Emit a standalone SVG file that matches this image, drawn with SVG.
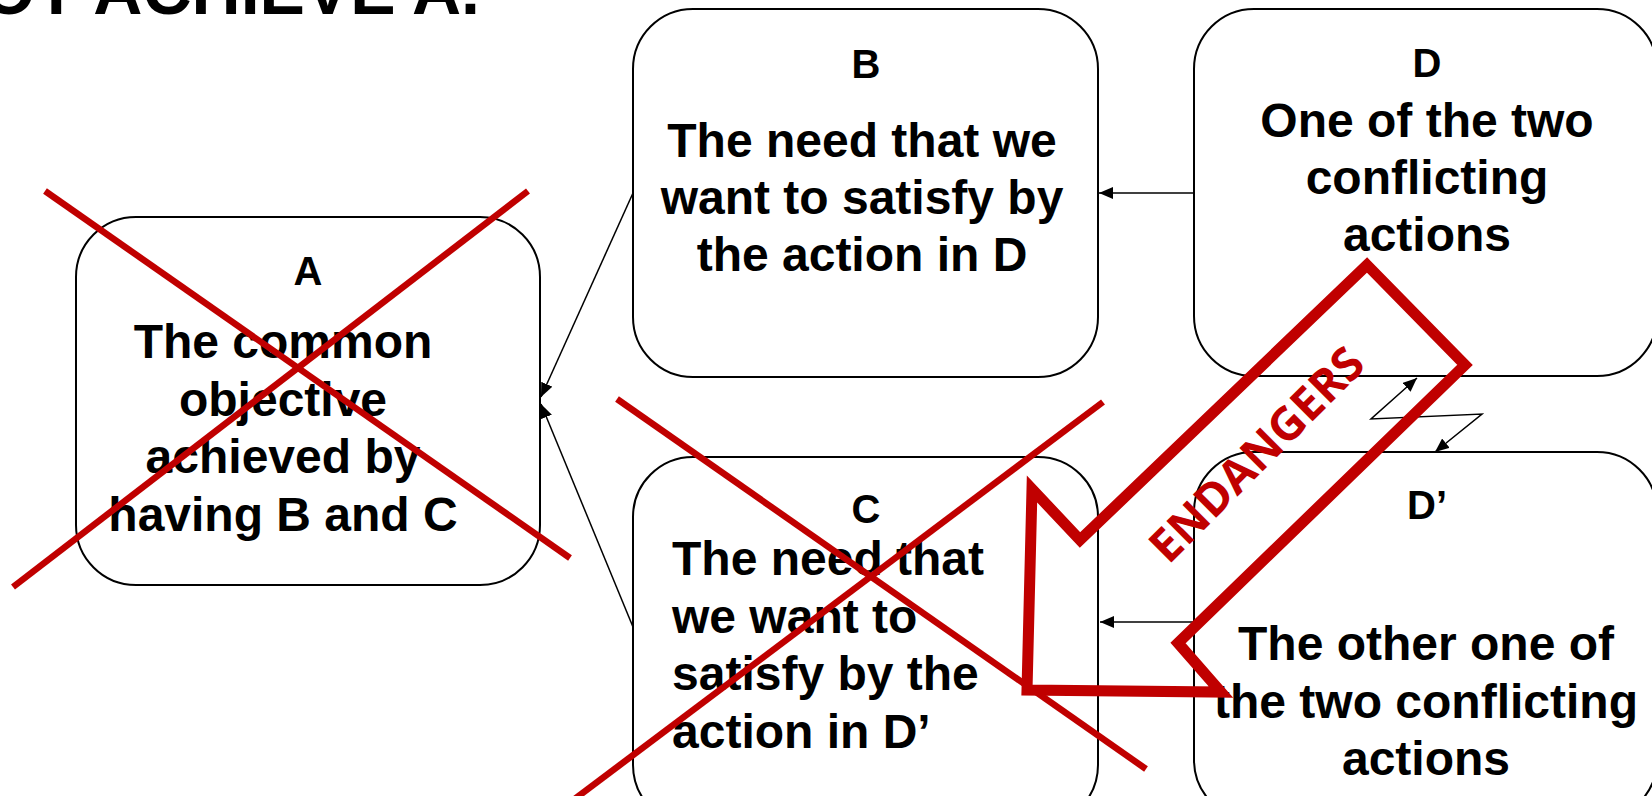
<svg xmlns="http://www.w3.org/2000/svg" width="1652" height="796" viewBox="0 0 1652 796">
  <style>
    .box { fill: #ffffff; stroke: #000000; stroke-width: 2; }
    .t { font-family: "Liberation Sans", Arial, sans-serif; font-weight: bold; fill: #000000; }
    .lbl { font-size: 40px; text-anchor: middle; }
    .body { font-size: 48px; text-anchor: middle; }
    .bodyl { font-size: 48px; text-anchor: start; }
    .conn { fill: none; stroke: #000000; stroke-width: 1.5; }
    .cross { fill: none; stroke: #C00000; stroke-width: 6.5; }
    .big { fill: none; stroke: #C00000; stroke-width: 11; stroke-linejoin: miter; stroke-miterlimit: 6; }
  </style>
  <defs>
    <marker id="ah" viewBox="0 0 14 12" refX="14" refY="6" markerWidth="14" markerHeight="12" markerUnits="userSpaceOnUse" orient="auto-start-reverse">
      <path d="M0,0 L14,6 L0,12 z" fill="#000000"/>
    </marker>
  </defs>

  <text class="t" x="480" y="13.5" font-size="68" text-anchor="end">OT ACHIEVE A.</text>

  <g id="nodeA">
    <rect class="box" x="76" y="217" width="464" height="368" rx="60" ry="60"/>
    <text class="t lbl" x="308" y="285">A</text>
    <text class="t body" x="283" y="358">The common</text>
    <text class="t body" x="283" y="416">objective</text>
    <text class="t body" x="283" y="473">achieved by</text>
    <text class="t body" x="283" y="531">having B and C</text>
  </g>

  <g id="nodeB">
    <rect class="box" x="633" y="9" width="465" height="368" rx="60" ry="60"/>
    <text class="t lbl" x="866" y="78">B</text>
    <text class="t body" x="862" y="157">The need that we</text>
    <text class="t body" x="862" y="214">want to satisfy by</text>
    <text class="t body" x="862" y="271">the action in D</text>
  </g>

  <g id="nodeC">
    <rect class="box" x="633" y="457" width="465" height="368" rx="60" ry="60"/>
    <text class="t lbl" x="866" y="523">C</text>
    <text class="t bodyl" x="672" y="575">The need that</text>
    <text class="t bodyl" x="672" y="633">we want to</text>
    <text class="t bodyl" x="672" y="690">satisfy by the</text>
    <text class="t bodyl" x="672" y="748">action in D’</text>
  </g>

  <g id="nodeD">
    <rect class="box" x="1194" y="9" width="463" height="367" rx="60" ry="60"/>
    <text class="t lbl" x="1427" y="77">D</text>
    <text class="t body" x="1427" y="137">One of the two</text>
    <text class="t body" x="1427" y="194">conflicting</text>
    <text class="t body" x="1427" y="251">actions</text>
  </g>

  <g id="nodeD2">
    <rect class="box" x="1194" y="452" width="463" height="368" rx="60" ry="60"/>
    <text class="t lbl" x="1427" y="519">D’</text>
    <text class="t body" x="1426" y="660">The other one of</text>
    <text class="t body" x="1426" y="718">the two conflicting</text>
    <text class="t body" x="1426" y="775">actions</text>
  </g>

  <g id="connectors">
    <line class="conn" x1="633" y1="193" x2="541" y2="397" marker-end="url(#ah)"/>
    <line class="conn" x1="633" y1="627" x2="541" y2="404" marker-end="url(#ah)"/>
    <line class="conn" x1="1194" y1="193" x2="1099" y2="193" marker-end="url(#ah)"/>
    <line class="conn" x1="1194" y1="622" x2="1100" y2="622" marker-end="url(#ah)"/>
    <polyline class="conn" points="1417,378 1371,419 1482,414 1435,452" marker-start="url(#ah)" marker-end="url(#ah)"/>
  </g>

  <g id="crossA">
    <line class="cross" x1="45" y1="191" x2="570" y2="558"/>
    <line class="cross" x1="13" y1="587" x2="528" y2="191"/>
  </g>

  <g id="crossC">
    <line class="cross" x1="617" y1="399" x2="1146" y2="769"/>
    <line class="cross" x1="1103" y1="402" x2="560" y2="810"/>
  </g>

  <g id="endangers">
    <polygon class="big" points="1367,265 1465,365 1178,643 1221,692 1027,690 1032,489 1080,540"/>
    <text transform="translate(1268,466) rotate(-45)" text-anchor="middle" font-family="'Open Sans', 'Liberation Sans', sans-serif" font-weight="bold" font-size="46" fill="#C00000">ENDANGERS</text>
  </g>
</svg>
